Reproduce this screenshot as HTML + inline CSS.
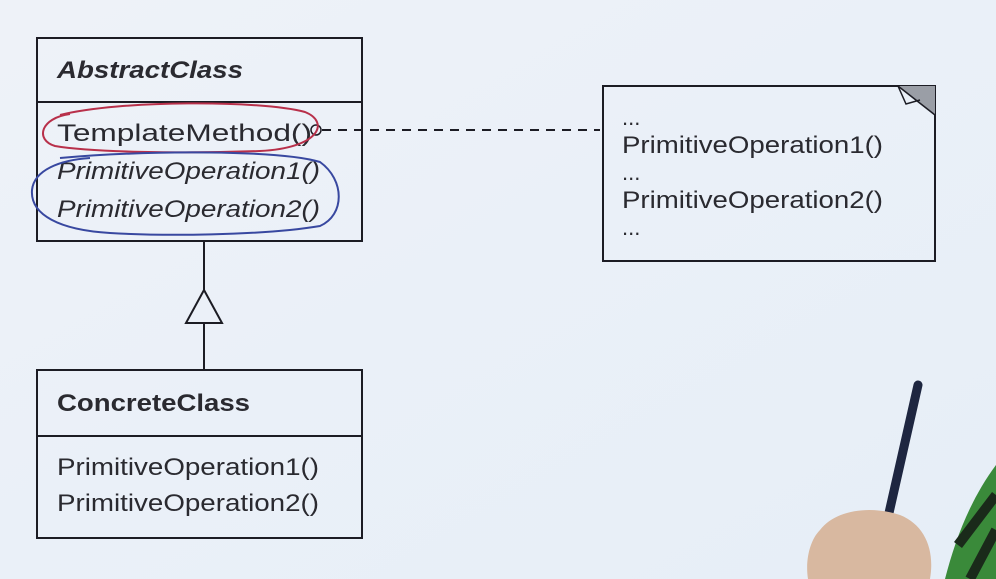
<!DOCTYPE html>
<html><head><meta charset="utf-8"><style>
html,body{margin:0;padding:0;background:#edf2f8;}
svg{display:block}
text{font-family:"Liberation Sans",sans-serif;fill:#2a2a30}
</style></head><body>
<svg width="996" height="579" viewBox="0 0 996 579" xmlns="http://www.w3.org/2000/svg">
<defs><linearGradient id="bg" x1="0" y1="0" x2="1" y2="1"><stop offset="0" stop-color="#eef2f8"/><stop offset="1" stop-color="#e6eef7"/></linearGradient></defs>
<rect width="996" height="579" fill="url(#bg)"/>
<g fill="none" stroke="#1c1c24" stroke-width="2">
<rect x="37" y="38" width="325" height="203"/>
<line x1="37" y1="102" x2="362" y2="102"/>
<rect x="37" y="370" width="325" height="168"/>
<line x1="37" y1="436" x2="362" y2="436"/>
<line x1="204" y1="241" x2="204" y2="290"/>
<polygon points="204,290 186,323 222,323"/>
<line x1="204" y1="323" x2="204" y2="370"/>
<rect x="603" y="86" width="332" height="175"/>
<circle cx="316" cy="130" r="5" stroke-width="1.5"/>
<line x1="322" y1="130" x2="600" y2="130" stroke-dasharray="9,7"/>
</g>
<polygon points="898,86 935,86 935,115" fill="#9a9ea6"/>
<path d="M898,86 L935,115 M898,86 L906,104 L920,100" fill="none" stroke="#1c1c24" stroke-width="1.5"/>
<text x="57" y="78" font-size="24" font-weight="bold" font-style="italic" textLength="186" lengthAdjust="spacingAndGlyphs">AbstractClass</text>
<text x="57" y="141" font-size="24" textLength="255" lengthAdjust="spacingAndGlyphs">TemplateMethod()</text>
<text x="57" y="179" font-size="24" font-style="italic" textLength="263" lengthAdjust="spacingAndGlyphs">PrimitiveOperation1()</text>
<text x="57" y="217" font-size="24" font-style="italic" textLength="263" lengthAdjust="spacingAndGlyphs">PrimitiveOperation2()</text>
<text x="57" y="411" font-size="24" font-weight="bold" textLength="193" lengthAdjust="spacingAndGlyphs">ConcreteClass</text>
<text x="57" y="475" font-size="24" textLength="262" lengthAdjust="spacingAndGlyphs">PrimitiveOperation1()</text>
<text x="57" y="511" font-size="24" textLength="262" lengthAdjust="spacingAndGlyphs">PrimitiveOperation2()</text>
<text x="622" y="125" font-size="22">...</text>
<text x="622" y="153" font-size="24" textLength="261" lengthAdjust="spacingAndGlyphs">PrimitiveOperation1()</text>
<text x="622" y="180" font-size="22">...</text>
<text x="622" y="208" font-size="24" textLength="261" lengthAdjust="spacingAndGlyphs">PrimitiveOperation2()</text>
<text x="622" y="235" font-size="22">...</text>
<path d="M60,115 C120,100 260,100 305,112 C330,122 320,148 260,151 C180,154 90,152 55,146 C35,140 40,118 70,114" fill="none" stroke="#b8304a" stroke-width="2"/>
<path d="M60,158 C150,150 280,150 320,162 C345,180 345,215 320,226 C260,236 160,236 110,233 C60,230 30,215 32,190 C34,170 60,160 90,158" fill="none" stroke="#3848a0" stroke-width="2"/>
<path d="M918,385 L884,535" stroke="#1e2640" stroke-width="9" stroke-linecap="round"/>
<path d="M820,530 C835,510 870,505 900,515 C925,525 935,550 930,579 L808,579 C805,560 810,540 820,530Z" fill="#d8b8a0"/>
<path d="M996,465 L996,579 L945,579 C955,540 970,500 996,465Z" fill="#3a8a3a"/>
<path d="M996,495 L958,545 M996,530 L970,579" stroke="#1a2a1a" stroke-width="10"/>
</svg>
</body></html>
